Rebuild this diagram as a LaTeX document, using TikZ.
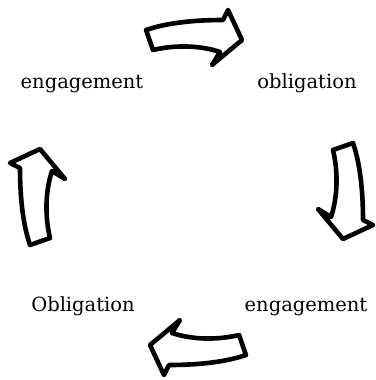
\documentclass[tikz,border=0pt]{standalone}
\usepackage{fontspec}
\setmainfont{DejaVu Serif}
\tikzset{
  word/.style={font=\fontsize{19.5}{23}\selectfont, inner sep=0pt, anchor=base},
  blockarrow/.pic={
    \draw[line width=4.6pt, line join=round, fill=white]
      (-48,-8) .. controls (-25,-16) and (5,-18) .. (29,-18)
      -- (34,-28) -- (48,2) -- (18,27) -- (26,14)
      .. controls (5,7) and (-20,7) .. (-41,12) -- cycle;
  }
}
\begin{document}
\begin{tikzpicture}[x=1pt, y=-1pt]
  \useasboundingbox (0,0) rectangle (375,380);
  % the four words
  \node[word] (engtop) at (82,88) {engagement};
  \node[word] (obltop) at (307,88) {obligation};
  \node[word] (oblbot) at (83,311) {Obligation};
  \node[word] (engbot) at (306,311) {engagement};
  % the four arrows, going round clockwise
  \pic[rotate=0] at (194,38) {blockarrow};
  \pic[rotate=-90] at (345,191) {blockarrow};
  \pic[rotate=180] at (198,347) {blockarrow};
  \pic[rotate=90] at (38,197) {blockarrow};
\end{tikzpicture}
\end{document}
